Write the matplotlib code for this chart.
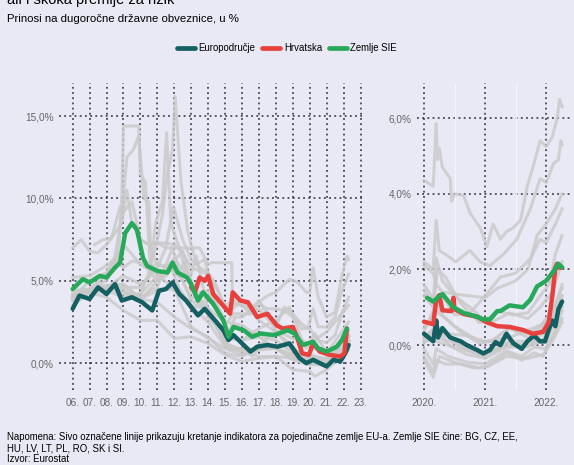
import numpy as np
import matplotlib
matplotlib.use("Agg")
import matplotlib.pyplot as plt
from matplotlib.lines import Line2D

plt.rcParams['font.family'] = ['Liberation Sans', 'DejaVu Sans']

# boje
BG = "#e8e9f5"
C_EA = "#135f62"
C_HR = "#e8403d"
C_SIE = "#27a95a"
C_SIVO = "#c9c9c9"

# ---------------- lijevi panel (2006.-2022.) ----------------
ea_l_x = [2006.0, 2006.4, 2007.0, 2007.5, 2008.0, 2008.5, 2008.9, 2009.5, 2010.1, 2010.7,
          2011.1, 2011.5, 2011.9, 2012.3, 2012.7, 2013.0, 2013.4, 2013.8, 2014.4, 2014.9,
          2015.2, 2015.5, 2016.0, 2016.5, 2016.9, 2017.5, 2018.1, 2018.8, 2019.4, 2019.8,
          2020.2, 2020.6, 2021.0, 2021.4, 2021.8, 2022.1, 2022.3]
ea_l_y = [3.3, 4.1, 3.9, 4.6, 4.2, 4.8, 3.8, 4.0, 3.7, 3.2,
          4.4, 4.5, 4.9, 4.2, 3.8, 3.4, 2.9, 3.3, 2.6, 2.0,
          1.4, 1.7, 1.2, 0.7, 1.0, 1.1, 1.0, 1.2, 0.3, 0.0,
          0.2, 0.0, -0.2, 0.2, 0.1, 0.6, 1.1]

sie_l_x = [2006.0, 2006.6, 2007.0, 2007.6, 2008.0, 2008.5, 2008.8, 2009.1, 2009.5, 2009.8,
           2010.15, 2010.4, 2011.0, 2011.6, 2011.9, 2012.2, 2012.75, 2013.0, 2013.4, 2013.7,
           2014.3, 2014.9, 2015.2, 2015.5, 2016.1, 2016.6, 2017.1, 2017.9, 2018.7, 2019.1,
           2019.6, 2020.2, 2020.5, 2021.0, 2021.6, 2021.9, 2022.2]
sie_l_y = [4.5, 5.1, 4.9, 5.3, 5.2, 5.8, 6.1, 7.9, 8.5, 8.1,
           6.4, 5.9, 5.6, 5.5, 6.1, 5.5, 5.2, 4.8, 3.8, 4.3,
           3.6, 2.6, 1.6, 2.2, 2.0, 1.6, 1.8, 1.7, 2.0, 1.8,
           1.1, 1.3, 0.9, 0.7, 1.0, 1.4, 2.1]

hr_l_x = [2013.0, 2013.25, 2013.5, 2013.8, 2014.0, 2014.3, 2014.8, 2015.3, 2015.45, 2015.9,
          2016.35, 2016.9, 2017.5, 2018.05, 2018.4, 2019.0, 2019.25, 2019.55, 2019.95, 2020.2,
          2020.6, 2021.2, 2021.8, 2022.05, 2022.12, 2022.2]
hr_l_y = [4.6, 4.4, 5.2, 5.0, 5.3, 4.2, 3.6, 3.0, 4.3, 3.8,
          3.7, 2.8, 3.0, 2.3, 2.1, 2.2, 1.6, 0.6, 0.5, 1.2,
          0.7, 0.5, 0.4, 0.6, 1.3, 2.1]

# sive linije - pojedinacne zemlje EU-a (godina, prinos)
siva_l_ro = [(2007.3, 7.2), (2007.8, 7.5), (2008.3, 7.6), (2008.8, 9.5), (2009.0, 9.2), (2009.5, 9.8),
             (2010.0, 7.5), (2010.5, 7.2), (2011.0, 7.3), (2011.5, 7.3), (2012.0, 7.2), (2012.5, 6.7),
             (2013.0, 5.8), (2013.5, 5.6), (2014.0, 5.4), (2014.5, 4.5), (2015.0, 3.5), (2015.5, 3.8),
             (2016.0, 3.5), (2016.5, 3.3), (2017.0, 3.7), (2017.5, 4.1), (2018.0, 4.3), (2018.8, 5.1),
             (2019.3, 4.9), (2019.8, 4.3), (2020.0, 4.3), (2020.2, 5.8), (2020.5, 4.0), (2021.0, 2.8),
             (2021.5, 3.1), (2021.9, 5.3), (2022.2, 6.5), (2022.3, 6.3)]
siva_l_hu = [(2006.0, 7.0), (2006.5, 7.5), (2007.0, 6.8), (2007.5, 6.7), (2008.0, 7.2), (2008.5, 7.9),
             (2008.9, 8.5), (2009.2, 10.5), (2009.5, 8.5), (2010.0, 7.5), (2010.5, 7.2), (2011.0, 7.3),
             (2011.5, 7.0), (2011.95, 9.5), (2012.5, 7.5), (2013.0, 6.3), (2013.5, 5.8), (2014.0, 5.5),
             (2014.5, 4.7), (2015.0, 3.3), (2015.5, 3.6), (2016.0, 3.5), (2016.5, 3.0), (2017.0, 3.3),
             (2017.5, 2.7), (2018.0, 2.2), (2018.5, 3.4), (2019.0, 3.0), (2019.5, 2.4), (2019.9, 2.1),
             (2020.2, 3.3), (2020.5, 2.2), (2021.0, 2.2), (2021.5, 2.8), (2021.9, 4.4), (2022.3, 5.4)]
siva_l_pl = [(2006.0, 5.2), (2007.0, 5.3), (2007.8, 5.8), (2008.5, 6.3), (2009.0, 5.8), (2009.5, 6.2),
             (2010.0, 6.1), (2010.5, 5.7), (2011.0, 6.1), (2011.5, 5.8), (2012.0, 5.6), (2012.5, 5.0),
             (2013.0, 3.9), (2013.5, 4.3), (2014.0, 4.4), (2014.5, 3.3), (2015.0, 2.3), (2015.5, 3.0),
             (2016.0, 3.0), (2016.5, 3.0), (2017.0, 3.6), (2017.5, 3.3), (2018.0, 3.3), (2018.5, 3.2),
             (2019.0, 2.8), (2019.5, 2.1), (2020.0, 2.1), (2020.5, 1.35), (2021.0, 1.25), (2021.5, 1.7),
             (2021.9, 3.0), (2022.3, 4.0)]
siva_l_lt = [(2006.0, 4.0), (2007.0, 4.5), (2008.0, 5.0), (2008.7, 6.5), (2008.9, 10.0), (2009.0, 14.4),
             (2009.9, 14.4), (2010.0, 11.5), (2010.3, 11.0), (2010.6, 5.5), (2011.0, 5.0), (2011.5, 5.3),
             (2011.9, 5.8), (2012.5, 5.0), (2013.0, 3.8), (2014.0, 3.2), (2015.0, 1.2), (2016.0, 0.8),
             (2017.0, 0.4), (2018.0, 0.4), (2019.0, 0.3), (2020.0, 0.1), (2021.0, 0.1), (2022.3, 1.4)]
siva_l_lv = [(2006.0, 4.0), (2007.0, 5.0), (2008.0, 5.5), (2008.5, 6.5), (2008.9, 9.0), (2009.2, 12.5),
             (2009.6, 13.0), (2009.9, 13.8), (2010.2, 10.0), (2010.5, 9.8), (2010.6, 7.0), (2011.0, 5.9),
             (2011.8, 5.9), (2012.3, 4.5), (2013.0, 3.5), (2014.0, 2.5), (2015.0, 1.0), (2016.0, 0.7),
             (2017.0, 0.8), (2018.0, 0.9), (2019.0, 0.5), (2020.0, 0.2), (2021.0, 0.0), (2022.3, 1.2)]
siva_l_pt = [(2006.0, 3.9), (2007.0, 4.4), (2008.0, 4.6), (2009.0, 4.2), (2010.0, 4.2), (2010.5, 5.5),
             (2010.9, 7.0), (2011.3, 9.0), (2011.6, 11.5), (2011.9, 13.0), (2012.05, 16.2), (2012.4, 11.0),
             (2012.8, 8.0), (2013.3, 6.0), (2013.8, 6.3), (2014.3, 4.0), (2014.9, 2.8), (2015.2, 1.8),
             (2015.6, 2.8), (2016.0, 2.8), (2016.5, 3.2), (2017.0, 3.8), (2017.6, 2.8), (2018.0, 1.9),
             (2019.0, 1.0), (2019.7, 0.2), (2020.0, 0.4), (2021.0, 0.1), (2022.3, 2.0)]
siva_l_ie = [(2006.0, 3.8), (2007.0, 4.4), (2008.0, 4.6), (2009.0, 5.3), (2010.0, 4.8), (2010.5, 5.2),
             (2010.9, 8.5), (2011.3, 9.8), (2011.55, 14.0), (2011.8, 8.5), (2012.3, 7.0), (2012.8, 5.0),
             (2013.5, 4.0), (2014.5, 2.5), (2015.2, 0.8), (2016.0, 0.9), (2016.6, 0.4), (2017.0, 0.9),
             (2018.0, 0.9), (2019.0, 0.3), (2020.0, 0.0), (2021.0, -0.1), (2022.3, 1.6)]
siva_l_cy = [(2006.0, 4.1), (2007.0, 4.5), (2008.0, 4.6), (2009.0, 4.6), (2010.0, 4.6), (2011.0, 5.8),
             (2011.5, 7.0), (2013.5, 7.0), (2014.0, 6.0), (2014.2, 6.1), (2015.4, 6.1), (2015.45, 3.3),
             (2016.0, 3.8), (2017.0, 2.6), (2018.0, 1.9), (2019.0, 0.8), (2020.0, 0.5), (2021.0, 0.2),
             (2022.3, 1.6)]
siva_l_it = [(2006.0, 4.0), (2007.0, 4.5), (2008.0, 4.7), (2009.0, 4.3), (2010.0, 4.0), (2011.0, 4.6),
             (2011.9, 7.0), (2012.3, 5.5), (2012.6, 6.2), (2013.0, 4.4), (2014.0, 3.0), (2015.0, 1.5),
             (2016.0, 1.4), (2017.0, 2.1), (2018.0, 2.6), (2018.8, 3.4), (2019.5, 1.5), (2019.8, 0.9),
             (2020.3, 1.8), (2021.0, 0.6), (2022.3, 2.5)]
siva_l_es = [(2006.0, 3.8), (2007.0, 4.3), (2008.0, 4.4), (2009.0, 4.0), (2010.0, 4.2), (2010.9, 5.2),
             (2011.5, 5.7), (2012.5, 6.8), (2013.0, 5.0), (2014.0, 2.8), (2015.0, 1.6), (2016.0, 1.4),
             (2017.0, 1.6), (2018.0, 1.4), (2019.0, 0.6), (2020.0, 0.4), (2021.0, 0.3), (2022.3, 1.7)]
siva_l_de = [(2006.0, 3.5), (2007.0, 4.3), (2008.0, 4.0), (2009.0, 3.2), (2010.0, 2.6), (2011.0, 2.6),
             (2012.0, 1.5), (2013.0, 1.6), (2014.0, 1.2), (2015.0, 0.5), (2016.0, 0.1), (2017.0, 0.3),
             (2018.0, 0.4), (2019.0, -0.4), (2020.0, -0.5), (2020.3, -0.8), (2021.0, -0.4), (2022.3, 0.8)]
siva_l_cz = [(2006.0, 3.8), (2007.0, 4.4), (2008.0, 4.6), (2009.0, 4.8), (2010.0, 3.9), (2011.0, 3.7),
             (2012.0, 2.8), (2013.0, 2.1), (2014.0, 1.6), (2015.0, 0.6), (2016.0, 0.4), (2017.0, 1.0),
             (2018.0, 2.0), (2019.0, 1.5), (2020.0, 1.2), (2021.0, 1.9), (2022.3, 3.5)]
siva_l_sk = [(2006.0, 4.4), (2007.0, 4.5), (2008.0, 4.7), (2009.0, 4.8), (2010.0, 3.9), (2011.0, 4.4),
             (2012.0, 4.5), (2013.0, 2.2), (2014.0, 1.5), (2015.0, 0.9), (2016.0, 0.5), (2017.0, 0.9),
             (2018.0, 0.9), (2019.0, 0.2), (2020.0, -0.1), (2021.0, -0.1), (2022.3, 1.3)]
siva_l_bg = [(2006.0, 4.2), (2007.0, 4.5), (2008.0, 5.4), (2009.0, 7.2), (2010.0, 6.0), (2011.0, 5.4),
             (2012.0, 4.5), (2013.0, 3.5), (2014.0, 3.3), (2015.0, 2.5), (2016.0, 2.3), (2017.0, 1.6),
             (2018.0, 0.9), (2019.0, 0.4), (2020.0, 0.3), (2021.0, 0.2), (2022.3, 1.4)]
siva_l_si = [(2006.0, 3.9), (2007.0, 4.5), (2008.0, 4.6), (2009.0, 4.5), (2010.0, 3.8), (2011.0, 5.0),
             (2012.0, 6.4), (2012.9, 5.0), (2013.3, 6.5), (2014.0, 3.2), (2015.0, 1.2), (2016.0, 0.8),
             (2017.0, 0.9), (2018.0, 0.9), (2019.0, 0.3), (2020.0, 0.0), (2021.0, -0.1), (2022.3, 1.3)]
sive_lijevo = [siva_l_ro, siva_l_hu, siva_l_pl, siva_l_lt, siva_l_lv, siva_l_pt, siva_l_ie,
               siva_l_cy, siva_l_it, siva_l_es, siva_l_de, siva_l_cz, siva_l_sk, siva_l_bg, siva_l_si]

# ---------------- desni panel (2020.-2022.) ----------------
ea_d_x = [2020.0, 2020.15, 2020.2, 2020.23, 2020.3, 2020.43, 2020.6, 2020.7, 2020.87, 2020.97,
          2021.08, 2021.17, 2021.25, 2021.35, 2021.46, 2021.6, 2021.69, 2021.8, 2021.9, 2021.98,
          2022.04, 2022.1, 2022.15, 2022.2, 2022.26]
ea_d_y = [0.3, 0.1, 0.65, 0.2, 0.45, 0.2, 0.1, 0.0, -0.13, -0.22,
          -0.13, 0.08, 0.0, 0.3, 0.05, -0.1, 0.1, 0.25, 0.1, 0.1,
          0.4, 0.65, 0.5, 0.95, 1.15]

hr_d_x = [2020.0, 2020.15, 2020.2, 2020.25, 2020.3, 2020.45, 2020.48, 2020.5, 2020.65, 2020.87,
          2021.03, 2021.2, 2021.4, 2021.62, 2021.78, 2021.95, 2022.04, 2022.1, 2022.15, 2022.18,
          2022.22, 2022.26]
hr_d_y = [0.62, 0.55, 1.2, 1.32, 0.92, 0.9, 1.25, 0.95, 0.82, 0.75,
          0.6, 0.5, 0.48, 0.4, 0.3, 0.35, 0.6, 1.3, 2.05, 2.15,
          2.05, 2.05]

sie_d_x = [2020.05, 2020.15, 2020.3, 2020.48, 2020.65, 2020.87, 2020.97, 2021.08, 2021.2, 2021.25,
           2021.4, 2021.62, 2021.74, 2021.85, 2022.0, 2022.12, 2022.2, 2022.26]
sie_d_y = [1.25, 1.15, 1.35, 1.0, 0.85, 0.75, 0.68, 0.68, 0.9, 0.9,
           1.05, 1.0, 1.2, 1.55, 1.7, 1.95, 2.15, 2.05]

siva_d_ro = [(2020.0, 4.35), (2020.15, 4.2), (2020.2, 5.85), (2020.22, 4.9), (2020.25, 5.2), (2020.3, 4.7),
             (2020.43, 4.4), (2020.45, 3.8), (2020.5, 4.0), (2020.65, 3.95), (2020.75, 3.5), (2020.92, 3.1),
             (2021.03, 2.6), (2021.13, 3.2), (2021.25, 2.8), (2021.35, 3.0), (2021.46, 3.1), (2021.58, 3.3),
             (2021.69, 4.2), (2021.8, 4.8), (2021.9, 5.4), (2022.0, 5.25), (2022.1, 5.5), (2022.18, 6.0),
             (2022.22, 6.5), (2022.26, 6.3)]
siva_d_hu = [(2020.0, 2.2), (2020.15, 2.0), (2020.2, 3.3), (2020.25, 2.5), (2020.35, 2.4), (2020.52, 2.2),
             (2020.75, 2.5), (2020.92, 2.2), (2021.08, 2.1), (2021.3, 2.4), (2021.52, 2.8), (2021.74, 3.6),
             (2021.9, 4.4), (2022.0, 4.3), (2022.12, 4.8), (2022.2, 4.9), (2022.24, 5.4), (2022.26, 5.3)]
siva_d_pl = [(2020.0, 2.1), (2020.15, 1.9), (2020.2, 1.6), (2020.3, 1.4), (2020.5, 1.35), (2020.75, 1.3),
             (2021.0, 1.25), (2021.2, 1.5), (2021.5, 1.7), (2021.7, 2.0), (2021.85, 2.9), (2022.0, 3.2),
             (2022.15, 3.6), (2022.26, 4.0)]
siva_d_gr = [(2020.0, 1.45), (2020.15, 1.1), (2020.2, 2.3), (2020.3, 1.7), (2020.5, 1.3), (2020.75, 1.0),
             (2021.0, 0.65), (2021.2, 0.9), (2021.45, 0.8), (2021.7, 0.85), (2021.9, 1.3), (2022.05, 1.6),
             (2022.15, 2.4), (2022.26, 2.9)]
siva_d_it = [(2020.0, 1.3), (2020.15, 1.0), (2020.22, 2.0), (2020.35, 1.8), (2020.6, 1.1), (2020.9, 0.6),
             (2021.1, 0.6), (2021.4, 0.85), (2021.7, 0.7), (2021.9, 1.0), (2022.1, 1.4), (2022.26, 2.2)]
siva_d_cz = [(2020.0, 1.6), (2020.2, 1.1), (2020.3, 1.3), (2020.5, 0.8), (2020.75, 0.85), (2021.0, 1.3),
             (2021.25, 1.8), (2021.5, 1.9), (2021.75, 2.3), (2021.9, 2.8), (2022.0, 2.7), (2022.15, 3.2),
             (2022.26, 3.6)]
siva_d_pt = [(2020.0, 0.35), (2020.2, 1.1), (2020.3, 0.8), (2020.5, 0.5), (2020.9, 0.1), (2021.1, 0.1),
             (2021.4, 0.45), (2021.7, 0.2), (2021.9, 0.4), (2022.1, 0.8), (2022.26, 1.6)]
siva_d_es = [(2020.0, 0.45), (2020.2, 0.9), (2020.35, 0.7), (2020.6, 0.35), (2020.9, 0.05), (2021.1, 0.1),
             (2021.4, 0.45), (2021.7, 0.3), (2021.9, 0.5), (2022.1, 0.9), (2022.26, 1.5)]
siva_d_sk = [(2020.0, 0.05), (2020.2, 0.5), (2020.4, 0.0), (2020.7, -0.25), (2021.0, -0.35), (2021.35, -0.05),
             (2021.7, -0.05), (2021.9, 0.3), (2022.1, 0.7), (2022.26, 1.3)]
siva_d_lt = [(2020.0, 0.1), (2020.2, 0.2), (2020.5, 0.05), (2020.8, -0.2), (2021.0, -0.3), (2021.4, 0.1),
             (2021.7, 0.1), (2021.95, 0.3), (2022.1, 0.6), (2022.26, 1.1)]
siva_d_de = [(2020.0, -0.3), (2020.15, -0.7), (2020.2, -0.4), (2020.35, -0.5), (2020.6, -0.5), (2020.9, -0.6),
             (2021.05, -0.55), (2021.35, -0.2), (2021.6, -0.4), (2021.8, -0.2), (2021.95, -0.3), (2022.1, 0.2),
             (2022.26, 0.7)]
siva_d_nl = [(2020.0, -0.1), (2020.15, -0.5), (2020.2, -0.1), (2020.4, -0.3), (2020.7, -0.45), (2021.0, -0.5),
             (2021.35, -0.15), (2021.6, -0.3), (2021.8, -0.05), (2022.0, -0.1), (2022.15, 0.4), (2022.26, 0.9)]
siva_d_bg = [(2020.0, 0.25), (2020.2, 0.4), (2020.4, 0.3), (2020.7, 0.25), (2021.0, 0.1), (2021.4, 0.2),
             (2021.7, 0.4), (2021.95, 0.55), (2022.1, 0.7), (2022.26, 1.3)]
siva_d_lv = [(2020.0, 0.15), (2020.2, 0.1), (2020.4, 0.0), (2020.7, -0.15), (2021.0, -0.3), (2021.3, -0.05),
             (2021.7, 0.0), (2022.0, 0.1), (2022.26, 1.0)]
siva_d_si = [(2020.0, 0.2), (2020.2, 0.5), (2020.4, 0.2), (2020.7, -0.1), (2021.0, -0.25), (2021.35, 0.05),
             (2021.7, 0.0), (2021.95, 0.15), (2022.1, 0.6), (2022.26, 1.2)]
siva_d_fi = [(2020.0, -0.4), (2020.15, -0.85), (2020.25, -0.3), (2020.5, -0.45), (2020.8, -0.6), (2021.0, -0.6),
             (2021.35, -0.3), (2021.7, -0.35), (2021.95, -0.25), (2022.1, 0.1), (2022.26, 0.6)]
sive_desno = [siva_d_ro, siva_d_hu, siva_d_pl, siva_d_gr, siva_d_it, siva_d_cz, siva_d_pt, siva_d_es,
              siva_d_sk, siva_d_lt, siva_d_de, siva_d_nl, siva_d_bg, siva_d_lv, siva_d_si, siva_d_fi]

god_l = list(range(2006, 2024))
god_l_lab = [f"{g % 100:02d}." for g in god_l]
god_d = [2020, 2021, 2022]
god_d_lab = ["2020.", "2021.", "2022."]
y_l = [0, 5, 10, 15]
y_d = [0, 2, 4, 6]


def pct(v):
    return f"{v:.1f}%".replace(".", ",")


def style_ax(ax, xt, xl, yt):
    ax.set_facecolor(BG)
    for s in ax.spines.values():
        s.set_visible(False)
    ax.set_xticks(xt)
    ax.set_xticklabels(xl)
    ax.set_yticks(yt)
    ax.set_yticklabels([pct(v) for v in yt])
    ax.tick_params(length=0, labelsize=7.2, labelcolor="#666666")
    ax.tick_params(axis="y", pad=4)
    ax.tick_params(axis="x", pad=6)
    ax.grid(True, color="#2b2b3a", linestyle=(0, (1.2, 2.2)), linewidth=1.1)
    ax.set_axisbelow(True)


def draw(ax, sive, serije):
    for s in sive:
        a = np.array(s)
        ax.plot(a[:, 0], a[:, 1], color=C_SIVO, lw=2.2, alpha=0.8, zorder=2)
    for x, y, c in serije:
        ax.plot(x, y, color=c, lw=3.2, zorder=3, solid_capstyle="round")


fig = plt.figure(figsize=(5.74, 4.65), dpi=100, facecolor=BG)

ax1 = fig.add_axes([0.103, 0.161, 0.528, 0.660])
style_ax(ax1, god_l, god_l_lab, y_l)
draw(ax1, sive_lijevo, [(ea_l_x, ea_l_y, C_EA), (hr_l_x, hr_l_y, C_HR), (sie_l_x, sie_l_y, C_SIE)])
ax1.set_xlim(2005.2, 2023.1)
ax1.set_ylim(-1.64, 17.0)

ax2 = fig.add_axes([0.7265, 0.161, 0.2666, 0.660])
style_ax(ax2, god_d, god_d_lab, y_d)
for g in [2020.5, 2021.5]:
    ax2.axvline(g, color="#f4f4fa", lw=0.8, zorder=1)
draw(ax2, sive_desno, [(ea_d_x, ea_d_y, C_EA), (hr_d_x, hr_d_y, C_HR), (sie_d_x, sie_d_y, C_SIE)])
ax2.set_xlim(2019.885, 2022.39)
ax2.set_ylim(-1.19, 6.92)

# naslovi
fig.text(0.012, 0.9914, "ali i skoka premije za rizik", fontsize=10.5, va="baseline", ha="left")
fig.text(0.012, 0.952, "Prinosi na dugoročne državne obveznice, u %", fontsize=8.2, va="baseline", ha="left")

# legenda
handles = [Line2D([], [], color=c, lw=3.4, solid_capstyle="round") for c in [C_EA, C_HR, C_SIE]]
fig.legend(handles, ["Europodručje", "Hrvatska", "Zemlje SIE"], loc="center", bbox_to_anchor=(0.5, 0.897),
           ncol=3, frameon=False, fontsize=6.9, handlelength=1.9, handletextpad=0.35, columnspacing=0.7)

# napomena
fig.text(0.012, 0.036,
         "Napomena: Sivo označene linije prikazuju kretanje indikatora za pojedinačne zemlje EU-a. Zemlje SIE čine: BG, CZ, EE,\n"
         "HU, LV, LT, PL, RO, SK i SI.\nIzvor: Eurostat",
         fontsize=6.9, va="center", ha="left", linespacing=1.12)

fig.savefig("out.png", dpi=100, facecolor=BG)
